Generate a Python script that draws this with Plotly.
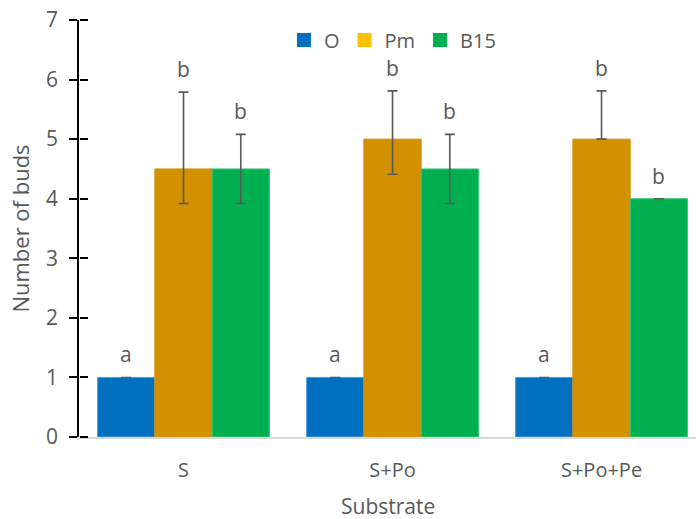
import plotly.graph_objects as go

categories = ["S", "S+Po", "S+Po+Pe"]
series_names = ["O", "Pm", "B15"]
values_O = [1.0, 1.0, 1.0]
values_Pm = [4.5, 5.0, 5.0]
values_B15 = [4.5, 4.5, 4.0]
err_plus_O = [0.0, 0.0, 0.0]
err_minus_O = [0.0, 0.0, 0.0]
err_plus_Pm = [1.29, 0.81, 0.81]
err_minus_Pm = [0.58, 0.59, 0.0]
err_plus_B15 = [0.58, 0.58, 0.0]
err_minus_B15 = [0.58, 0.58, 0.0]
letters_O = ["a", "a", "a"]
letters_Pm = ["b", "b", "b"]
letters_B15 = ["b", "b", "b"]

bar_colors = ["#0070C0", "#D39000", "#00B050"]
edge_colors = ["#5B9BD5", "#D39000", "#3CC87A"]
legend_colors = ["#0070C0", "#FFC000", "#00B050"]
FONT = "Open Sans, Liberation Sans, sans-serif"
GREY = "#595959"

vals = [values_O, values_Pm, values_B15]
eplus = [err_plus_O, err_plus_Pm, err_plus_B15]
eminus = [err_minus_O, err_minus_Pm, err_minus_B15]
letters = [letters_O, letters_Pm, letters_B15]

fig = go.Figure()
for i, name in enumerate(series_names):
    fig.add_trace(go.Bar(
        x=categories, y=vals[i], name=name, showlegend=False,
        offsetgroup=str(i),
        marker=dict(color=bar_colors[i], line=dict(color=edge_colors[i], width=1)),
        error_y=dict(type="data", symmetric=False, array=eplus[i], arrayminus=eminus[i],
                     color=GREY, thickness=1.6, width=5),
    ))
# legend-only entries (square swatches)
for i, name in enumerate(series_names):
    fig.add_trace(go.Scatter(
        x=[None], y=[None], name=name, showlegend=True, mode="markers",
        marker=dict(color=legend_colors[i], symbol="square", size=14),
    ))

# letter annotations
for i in range(3):
    for j, c in enumerate(categories):
        fig.add_annotation(
            x=c, y=vals[i][j] + eplus[i][j], xref="x", yref="y",
            text=letters[i][j], showarrow=False, yanchor="bottom",
            xshift=(i - 1) * 57.3, yshift=7,
            font=dict(family=FONT, size=21, color=GREY),
        )

fig.add_annotation(x=0.5, y=-0.166, xref="paper", yref="paper", text="Substrate",
                   showarrow=False, yanchor="middle",
                   font=dict(family=FONT, size=21, color=GREY))

# invisible trace for second y axis (tick part right of the axis line)
fig.add_trace(go.Scatter(x=[categories[0]], y=[0], yaxis="y2", mode="markers",
                         marker=dict(opacity=0), showlegend=False, hoverinfo="skip"))

fig.update_layout(
    width=696, height=519,
    margin=dict(l=79, r=0, t=20, b=82, autoexpand=False),
    plot_bgcolor="white", paper_bgcolor="white",
    barmode="group", bargap=0.178, bargroupgap=0,
    font=dict(family=FONT, color=GREY),
    legend=dict(orientation="h", x=0.508, xanchor="center", y=0.952, yanchor="middle",
                font=dict(family=FONT, size=20, color=GREY), itemwidth=30,
                itemsizing="trace",
                bgcolor="rgba(0,0,0,0)", traceorder="normal"),
    xaxis=dict(range=[-0.5, 2.452], showgrid=False, showline=True, linecolor="#D9D9D9",
               linewidth=1.5, ticks="", ticklabelstandoff=14, automargin=False,
               tickfont=dict(size=20, color=GREY, family=FONT)),
    yaxis=dict(range=[0, 7], dtick=1, showgrid=False, showline=True, linecolor="black",
               linewidth=1.5, ticks="outside", ticklen=8, tickwidth=1.5, tickcolor="black",
               automargin=False, ticklabelstandoff=7,
               tickfont=dict(size=21, color=GREY, family=FONT), zeroline=False,
               title=dict(text="Number of buds", font=dict(size=22, color=GREY, family=FONT), standoff=10)),
    yaxis2=dict(range=[0, 7], dtick=1, overlaying="y", side="right", anchor="free", position=0,
                showgrid=False, showline=False, ticks="outside", ticklen=8, tickwidth=1.5,
                tickcolor="black", showticklabels=False, zeroline=False, automargin=False),
)

fig.write_html("out.html", post_script="document.body.style.margin='0';",
               config={"displayModeBar": False})
